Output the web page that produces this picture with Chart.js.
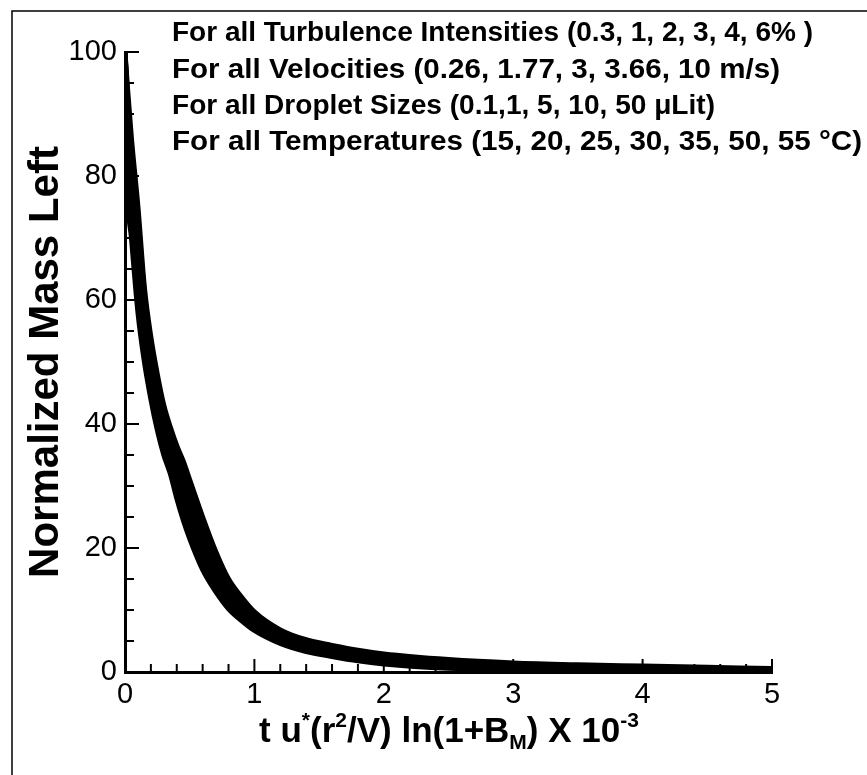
<!DOCTYPE html>
<html>
<head>
<meta charset="utf-8">
<script src="https://cdn.jsdelivr.net/npm/chart.js@4.4.1/dist/chart.umd.min.js"></script>
<style>
html,body{margin:0;padding:0;background:#fff;}
#wrap{width:867px;height:775px;position:relative;}
</style>
</head>
<body>
<div id="wrap"><canvas id="c" width="867" height="775"></canvas></div>
<script>
// ---- data ----
const xValues = [0, 0.02, 0.05, 0.1, 0.15, 0.2, 0.25, 0.3, 0.35, 0.4, 0.45, 0.5, 0.6, 0.7, 0.8, 0.9, 1.0, 1.2, 1.4, 1.6, 1.8, 2.0, 2.5, 3.0, 3.5, 4.0, 4.5, 5.0];
const curveA  = [100, 78, 70, 58, 50, 44, 39, 35, 32, 28, 24.5, 21.5, 16.5, 13, 10.2, 8.3, 6.7, 4.6, 3.3, 2.5, 1.8, 1.3, 0.6, 0.35, 0.2, 0.12, 0.06, 0.02];
const curveA2 = [100, 81, 73, 61, 52, 45.7, 40.5, 36.2, 33, 29.2, 25.7, 22.7, 17.7, 14, 11, 8.8, 7.0, 4.9, 3.5, 2.7, 2.0, 1.5, 0.75, 0.45, 0.28, 0.18, 0.1, 0.06];
const curveB  = [100, 84, 76, 64, 54.5, 47.5, 42, 37.5, 34, 30.5, 27, 24, 19, 15, 11.8, 9.3, 7.4, 5.2, 3.8, 2.9, 2.2, 1.7, 0.9, 0.55, 0.35, 0.25, 0.15, 0.1];
const curveB2 = [100, 86, 78, 66, 55.7, 48.7, 43.2, 38.5, 34.7, 31.2, 27.7, 24.7, 19.7, 15.7, 12.4, 9.8, 7.8, 5.5, 4.05, 3.15, 2.45, 1.9, 1.07, 0.7, 0.47, 0.35, 0.25, 0.17];
const curveC  = [100, 88, 80, 68, 57, 50, 44.5, 39.5, 35.5, 32, 28.5, 25.5, 20.5, 16.5, 13, 10.3, 8.2, 5.8, 4.3, 3.4, 2.7, 2.1, 1.25, 0.85, 0.6, 0.45, 0.35, 0.25];
const curveC2 = [100, 89.5, 81.5, 70, 58.5, 51, 45.2, 40.5, 36.5, 33.5, 30.5, 27, 21.5, 17.2, 13.5, 10.8, 8.6, 6.05, 4.55, 3.65, 2.9, 2.3, 1.4, 0.95, 0.72, 0.55, 0.42, 0.3];
const curveD  = [100, 91, 83, 72, 60, 52, 46, 41.5, 37.5, 35, 32.5, 28.5, 22.5, 18, 14, 11.3, 9.0, 6.3, 4.8, 3.9, 3.1, 2.5, 1.6, 1.1, 0.85, 0.65, 0.5, 0.35];
const curveD2 = [100, 92.5, 84.5, 73.5, 61, 53, 47, 42.2, 38.5, 35.5, 33.5, 30, 23.8, 18.8, 14.5, 11.7, 9.35, 6.55, 5.0, 4.1, 3.3, 2.7, 1.8, 1.28, 1.0, 0.8, 0.62, 0.45];
const curveE  = [100, 94, 86, 75, 62, 54, 48, 43, 39.5, 36.5, 34, 31, 25, 19.5, 15, 12.1, 9.7, 6.8, 5.2, 4.3, 3.5, 2.9, 2.0, 1.45, 1.15, 0.95, 0.75, 0.55];
const seriesList = [curveA, curveA2, curveB, curveB2, curveC, curveC2, curveD, curveD2, curveE];

const xTickLabels = ['0', '1', '2', '3', '4', '5'];
const yTickLabels = ['0', '20', '40', '60', '80', '100'];

const yTitle = 'Normalized Mass Left';
const xTitleParts = [
  {t: 't u', k: 'n'}, {t: '*', k: 'sup'}, {t: '(r', k: 'n'}, {t: '2', k: 'sup'},
  {t: '/V) ln(1+B', k: 'n'}, {t: 'M', k: 'sub'}, {t: ') X 10', k: 'n'}, {t: '-3', k: 'sup'}
];
const annotationLines = [
  'For all Turbulence Intensities (0.3, 1, 2, 3, 4, 6% )',
  'For all Velocities (0.26, 1.77, 3, 3.66, 10 m/s)',
  'For all Droplet Sizes (0.1,1, 5, 10, 50 \u03BCLit)',
  'For all Temperatures (15, 20, 25, 30, 35, 50, 55 \u00B0C)'
];

const FONT = "'Liberation Sans', Arial, Helvetica, sans-serif";

const decorPlugin = {
  id: 'decor',
  beforeDraw(chart) {
    const ctx = chart.ctx;
    ctx.save();
    ctx.fillStyle = '#fff';
    ctx.fillRect(0, 0, chart.width, chart.height);
    ctx.strokeStyle = '#000';
    ctx.lineWidth = 1.5;
    ctx.beginPath();
    ctx.moveTo(12, 775);
    ctx.lineTo(12, 11);
    ctx.lineTo(867, 11);
    ctx.stroke();
    ctx.restore();
  },
  afterDraw(chart) {
    const ctx = chart.ctx;
    const xs = chart.scales.x, ys = chart.scales.y;
    const ca = chart.chartArea;
    ctx.save();
    ctx.strokeStyle = '#000';
    ctx.lineWidth = 2;
    // x ticks (inward)
    for (let i = 0; i <= 25; i++) {
      const v = i * 0.2;
      const px = xs.getPixelForValue(v);
      const len = (i % 5 === 0) ? 13 : 8;
      ctx.beginPath();
      ctx.moveTo(px, ca.bottom);
      ctx.lineTo(px, ca.bottom - len);
      ctx.stroke();
    }
    for (let i = 0; i <= 20; i++) {
      const v = i * 5;
      const py = ys.getPixelForValue(v);
      const len = (i % 4 === 0) ? 14 : 9;
      ctx.beginPath();
      ctx.moveTo(ca.left, py);
      ctx.lineTo(ca.left + len, py);
      ctx.stroke();
    }
    // annotations (stretched horizontally to the reference widths)
    ctx.fillStyle = '#000';
    ctx.font = 'bold 27px ' + FONT;
    ctx.textAlign = 'left';
    ctx.textBaseline = 'alphabetic';
    const baselines = [41, 78, 114, 150];
    const widths = [641, 608, 543, 690];
    annotationLines.forEach((s, i) => {
      const w = ctx.measureText(s).width;
      ctx.save();
      ctx.translate(172, baselines[i]);
      ctx.scale(widths[i] / w, 1);
      ctx.fillText(s, 0, 0);
      ctx.restore();
    });
    // y title
    ctx.save();
    ctx.translate(58, 362);
    ctx.rotate(-Math.PI / 2);
    ctx.font = 'bold 42px ' + FONT;
    ctx.textAlign = 'center';
    ctx.fillText(yTitle, 0, 0);
    ctx.restore();
    // x title
    const big = 35, small = 21;
    let total = 0;
    xTitleParts.forEach(p => {
      ctx.font = 'bold ' + (p.k === 'n' ? big : small) + 'px ' + FONT;
      p.w = ctx.measureText(p.t).width;
      total += p.w;
    });
    let x = 449 - total / 2;
    const base = 742;
    ctx.textAlign = 'left';
    xTitleParts.forEach(p => {
      ctx.font = 'bold ' + (p.k === 'n' ? big : small) + 'px ' + FONT;
      const dy = p.k === 'sup' ? -15 : (p.k === 'sub' ? 7 : 0);
      ctx.fillText(p.t, x, base + dy);
      x += p.w;
    });
    ctx.restore();
  }
};

const datasets = seriesList.map((arr, i) => ({
  label: 'curve' + i,
  data: xValues.map((x, j) => ({x: x, y: arr[j]})),
  borderColor: '#000',
  backgroundColor: '#000',
  borderWidth: 5,
  pointRadius: 0,
  fill: false,
  cubicInterpolationMode: 'monotone'
}));

new Chart(document.getElementById('c'), {
  type: 'line',
  data: {datasets: datasets},
  options: {
    responsive: false,
    animation: false,
    events: [],
    layout: {padding: {left: 0, top: 52, right: 95, bottom: 0}},
    plugins: {legend: {display: false}, tooltip: {enabled: false}, title: {display: false}},
    scales: {
      x: {
        type: 'linear', min: 0, max: 5,
        ticks: {stepSize: 1, color: '#000', font: {family: FONT, size: 29}, padding: 6, maxRotation: 0,
          callback: (v) => xTickLabels[Math.round(v)]},
        grid: {drawOnChartArea: false, drawTicks: false, display: true, color: '#000'},
        border: {color: '#000', width: 3},
        afterFit: (s) => { s.height = 103; }
      },
      y: {
        type: 'linear', min: 0, max: 100,
        ticks: {stepSize: 20, color: '#000', font: {family: FONT, size: 29}, padding: 8,
          callback: (v) => yTickLabels[Math.round(v / 20)]},
        grid: {drawOnChartArea: false, drawTicks: false, display: true, color: '#000'},
        border: {color: '#000', width: 3},
        afterFit: (s) => { s.width = 125; }
      }
    }
  },
  plugins: [decorPlugin]
});
</script>
</body>
</html>
